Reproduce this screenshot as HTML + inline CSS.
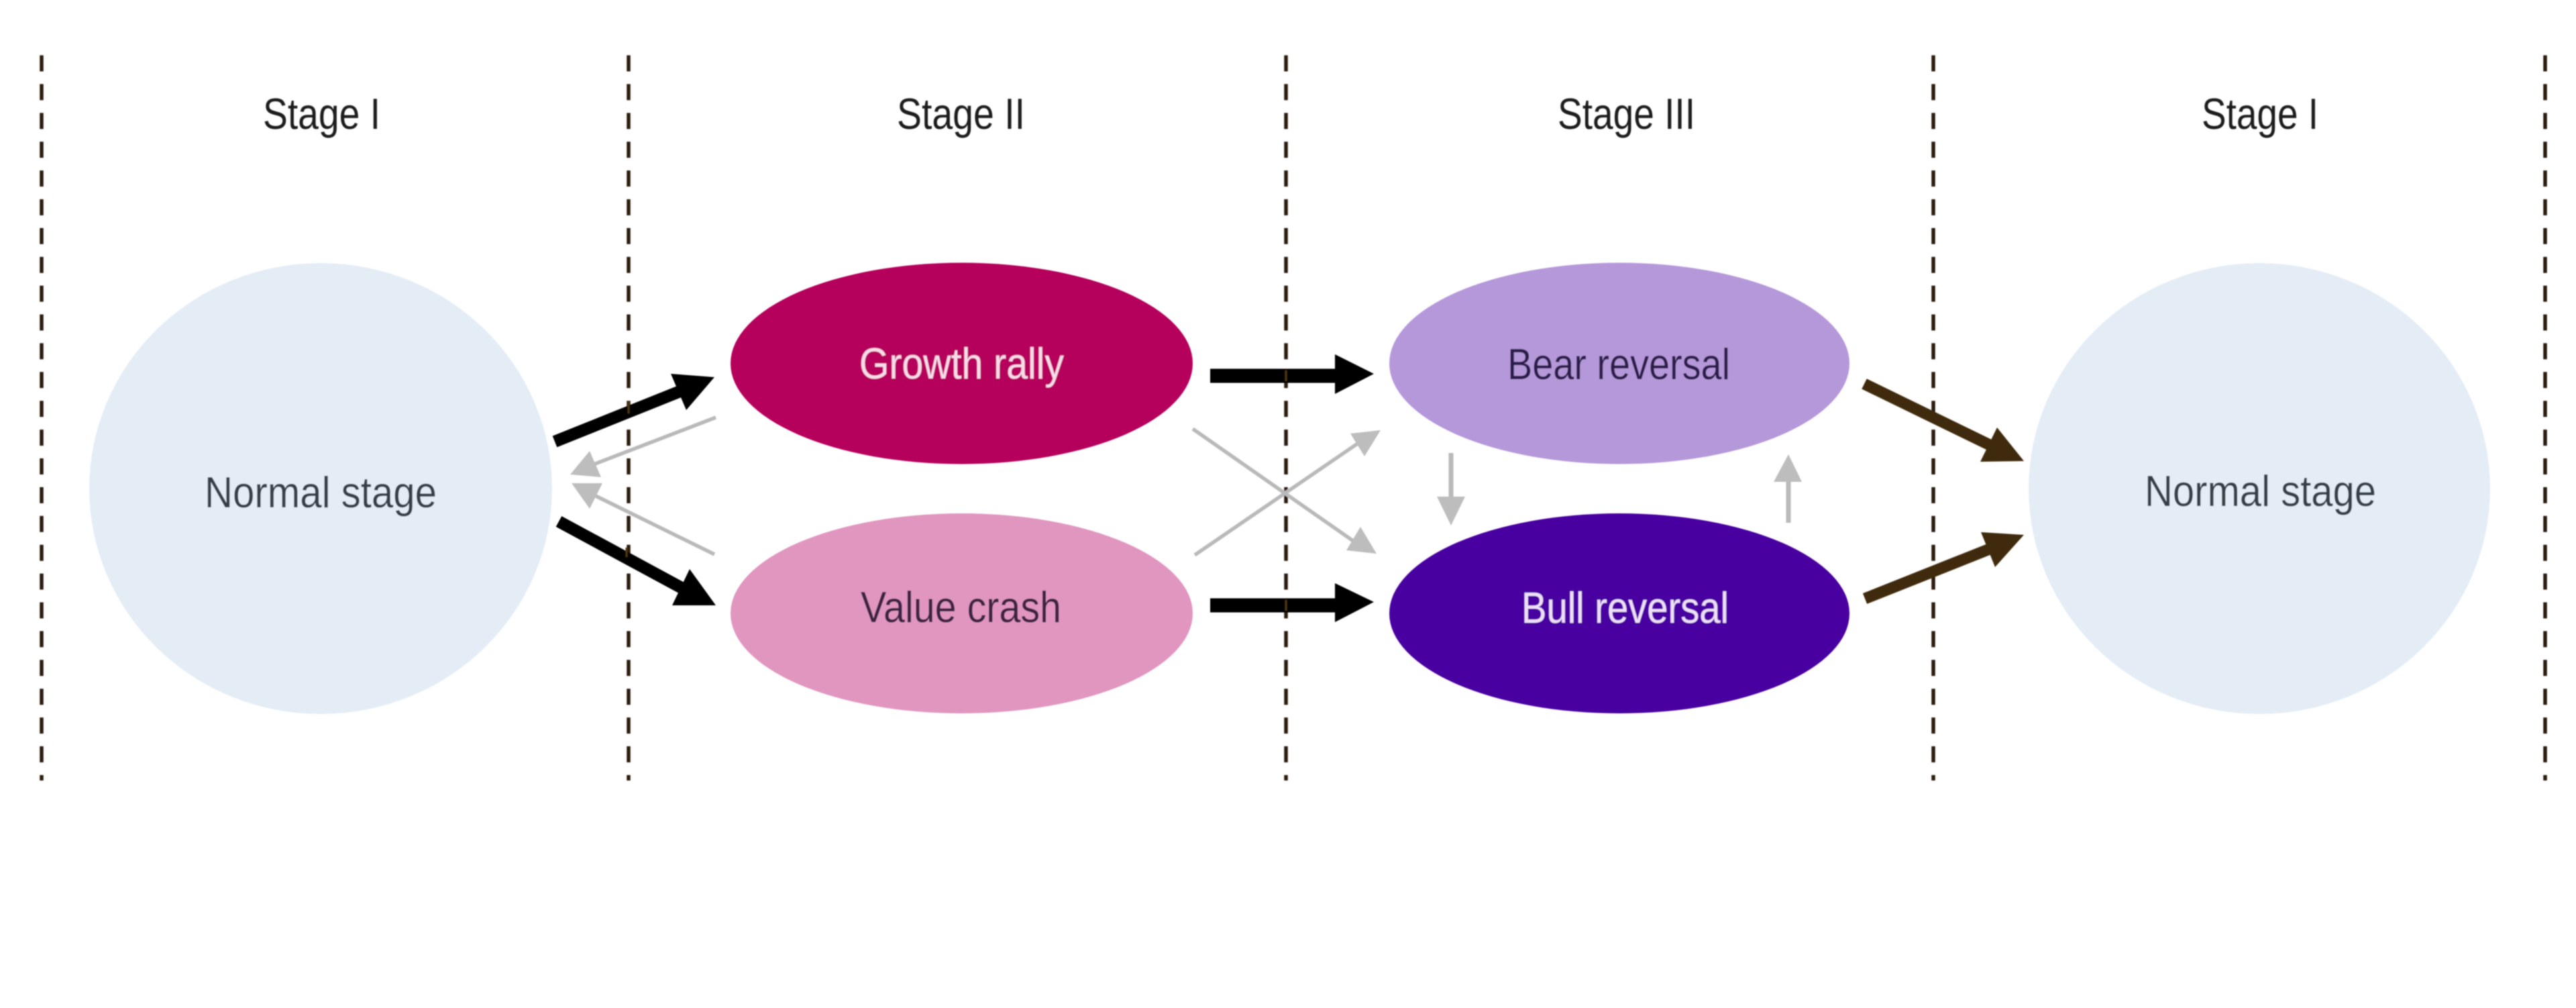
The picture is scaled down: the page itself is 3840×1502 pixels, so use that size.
<!DOCTYPE html>
<html><head><meta charset="utf-8"><title>Stages</title>
<style>html,body{margin:0;padding:0;background:#fff}svg{display:block}text{font-family:"Liberation Sans",sans-serif;font-size:65px}</style>
</head><body>
<svg width="3840" height="1502" viewBox="0 0 3840 1502" xmlns="http://www.w3.org/2000/svg">
<defs><filter id="b" x="-2%" y="-2%" width="104%" height="104%"><feGaussianBlur stdDeviation="0.9"/></filter></defs>
<rect width="3840" height="1502" fill="#fff"/>
<g filter="url(#b)">
<g stroke="#2a1d0e" stroke-width="5.5" stroke-dasharray="24 18.9" fill="none">
<path d="M62 82.4V1163"/><path d="M937 82.4V1163"/><path d="M1917 82.4V1163"/><path d="M2882 82.4V1163"/><path d="M3794 82.4V1163"/>
</g>
<ellipse cx="478" cy="728" rx="345" ry="336" fill="#e4edf6"/>
<ellipse cx="3368" cy="728" rx="344" ry="336" fill="#e4edf6"/>
<ellipse cx="1433.5" cy="541.5" rx="344.5" ry="150" fill="#b5005b"/>
<ellipse cx="1433.5" cy="914" rx="344.5" ry="149" fill="#e096bf"/>
<ellipse cx="2414" cy="541.5" rx="343" ry="150" fill="#b598d9"/>
<ellipse cx="2414" cy="914" rx="343" ry="149" fill="#4a00a0"/>
<!-- grey arrows -->
<g stroke="#b9b9b9" stroke-width="5.5" fill="none">
<path d="M1067 622L885 692"/><path d="M1065 826L886 738"/>
<path d="M1778 639L2020 808"/><path d="M1781 827L2028 658"/>
</g>
<g stroke="#b9b9b9" stroke-width="7" fill="none">
<path d="M2163 675V745"/><path d="M2666 779V715"/>
</g>
<g fill="#bdbdbd">
<polygon points="850,707 879,672 896,711"/>
<polygon points="852,720 898,720 879,758"/>
<polygon points="2052,825 2028,785 2007,820"/>
<polygon points="2058,641 2013,646 2034,680"/>
<polygon points="2163,783 2142,740 2184,740"/>
<polygon points="2666,677 2644,718 2686,718"/>
</g>
<!-- black arrows -->
<g stroke="#000" fill="none">
<path d="M827 658L1014 583" stroke-width="18"/>
<path d="M833 777L1018 877" stroke-width="18"/>
<path d="M1804 560H1995" stroke-width="21"/>
<path d="M1804 902H1995" stroke-width="21"/>
</g>
<g fill="#000">
<polygon points="1065,562 1000,557 1023,611"/>
<polygon points="1067,902 1002,902 1028,848"/>
<polygon points="2048,557 1990,528 1990,587"/>
<polygon points="2048,897 1990,869 1990,927"/>
</g>
<g stroke="#4a3510" stroke-width="3" fill="none">
<path d="M937 598V616"/><path d="M934 816V830"/><path d="M1917 552V568"/><path d="M1917 894V910"/>
</g>
<!-- brown arrows -->
<g stroke="#3f2a0d" stroke-width="17" fill="none">
<path d="M2779 572L2968 664"/><path d="M2780 892L2966 818"/>
</g>
<g fill="#3f2a0d">
<polygon points="3017,687 2952,688 2977,637"/>
<polygon points="3017,797 2953,793 2974,845"/>
</g>
<!-- labels -->
<g fill="#1f1f1f">
<text x="392" y="192" textLength="175" lengthAdjust="spacingAndGlyphs">Stage I</text>
<text x="1337" y="192" textLength="191" lengthAdjust="spacingAndGlyphs">Stage II</text>
<text x="2322" y="192" textLength="205" lengthAdjust="spacingAndGlyphs">Stage III</text>
<text x="3282" y="192" textLength="174" lengthAdjust="spacingAndGlyphs">Stage I</text>
</g>
<g fill="#363c46">
<text x="305" y="756" textLength="346" lengthAdjust="spacingAndGlyphs">Normal stage</text>
<text x="3197" y="754" textLength="345" lengthAdjust="spacingAndGlyphs">Normal stage</text>
</g>
<text x="1281" y="564" textLength="305" lengthAdjust="spacingAndGlyphs" fill="#f8dcea">Growth rally</text>
<text x="1283" y="927" textLength="299" lengthAdjust="spacingAndGlyphs" fill="#3a2340">Value crash</text>
<text x="2247" y="565" textLength="332" lengthAdjust="spacingAndGlyphs" fill="#2a1a4a">Bear reversal</text>
<text x="2268" y="928" textLength="309" lengthAdjust="spacingAndGlyphs" fill="#efe0f8">Bull reversal</text>
</g>
</svg>
</body></html>
